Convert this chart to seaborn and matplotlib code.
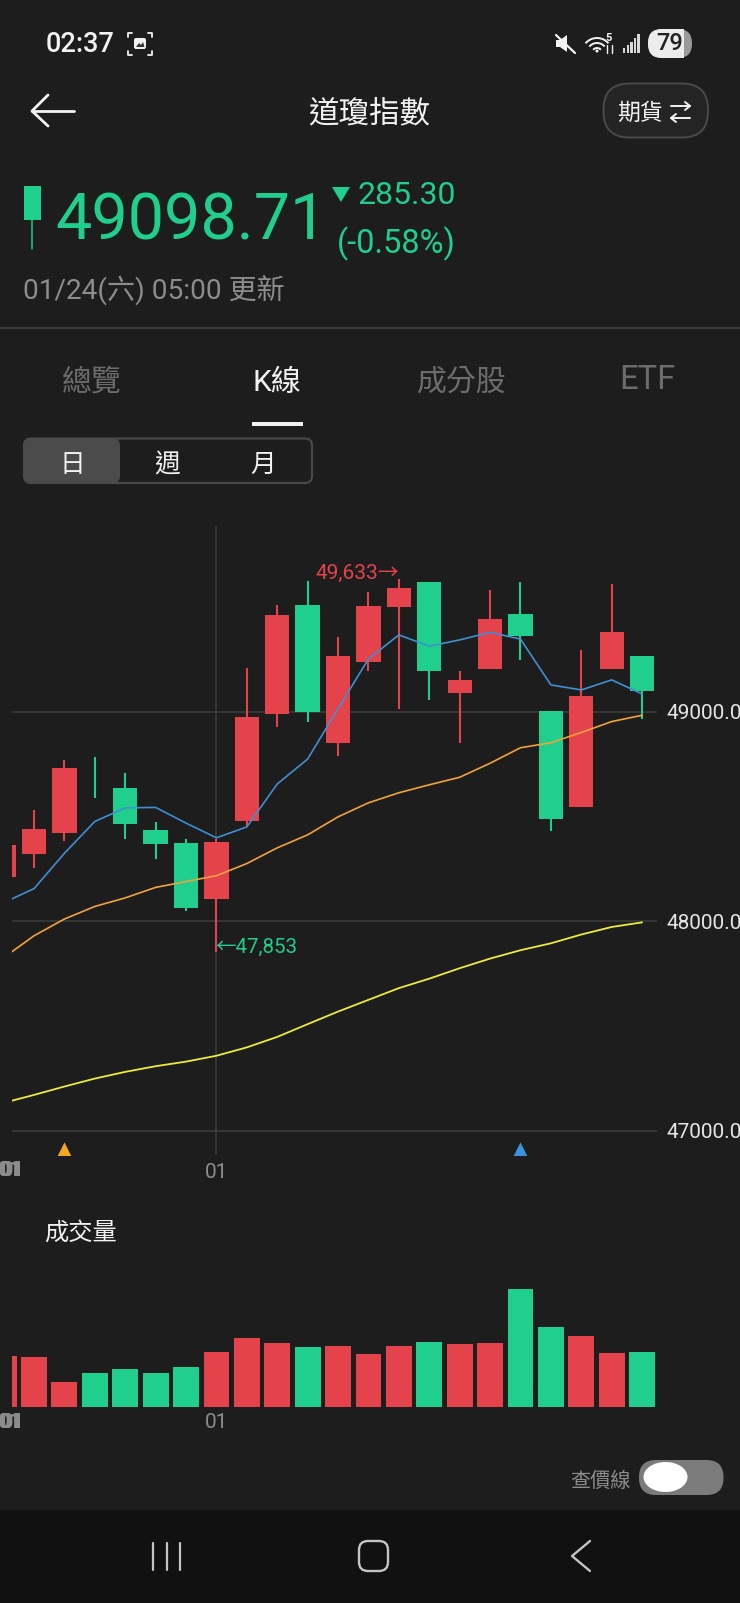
import numpy as np
import pandas as pd
import matplotlib
matplotlib.use("Agg")
import matplotlib.pyplot as plt
from matplotlib.patches import FancyBboxPatch, Rectangle, Ellipse, Arc, Polygon
import seaborn as sns

# ---------- data ----------
positions = list(range(22))
direction = ["up", "up", "up", "down", "down", "down", "down", "up", "up", "up", "down",
             "up", "up", "up", "down", "up", "up", "down", "down", "up", "up", "down"]
high = [48363, 48530, 48771, 48783, 48707, 48473, 48395, 48395, 49209, 49511, 49623,
        49358, 49571, 49633, 49619, 49197, 49583, 49619, 49006, 49295, 49609, 49265]
body_top = [48363, 48441, 48731, 48713, 48636, 48435, 48373, 48381, 48978, 49462, 49513,
            49267, 49505, 49591, 49619, 49153, 49444, 49468, 49006, 49078, 49384, 49265]
body_bottom = [48212, 48321, 48423, 48711, 48463, 48367, 48063, 48106, 48477, 48988, 48998,
               48851, 49237, 49500, 49195, 49090, 49203, 49362, 48489, 48546, 49203, 49100]
low = [48212, 48254, 48385, 48590, 48391, 48296, 48051, 47853, 48453, 48926, 48954,
       48791, 49197, 49012, 49056, 48851, 49203, 49247, 48429, 48546, 49203, 48966]
ma5 = [48089, 48156, 48325, 48477, 48542, 48544, 48469, 48399, 48451, 48656, 48775,
       49016, 49253, 49368, 49314, 49344, 49380, 49348, 49129, 49105, 49153, 49086]
ma20 = [47826, 47931, 48011, 48071, 48112, 48162, 48190, 48218, 48276, 48351, 48413,
        48499, 48566, 48614, 48652, 48688, 48755, 48829, 48853, 48902, 48954, 48984]
ma60 = [47133, 47171, 47211, 47249, 47281, 47308, 47330, 47358, 47398, 47448, 47509,
        47569, 47625, 47681, 47726, 47776, 47822, 47862, 47895, 47937, 47973, 47995]
volume = [152, 149, 74, 103, 114, 101, 120, 165, 206, 193, 180,
          184, 158, 184, 196, 189, 193, 354, 241, 214, 162, 164]
price_ticks = [47000, 48000, 49000]
price_labels = ["47000.00", "48000.00", "49000.00"]
tab_labels = ["總覽", "K線", "成分股", "ETF"]
period_labels = ["日", "週", "月"]

# ---------- style ----------
BG = "#1d1d1d"
NAV = "#111111"
RED = "#E4434C"
GREEN = "#20CE8E"
GRID = "#3d3d3d"
GRAY = "#8c8c8c"
DIM = "#6c6c6c"
WHITE = "#f2f2f2"
COL = {"up": RED, "down": GREEN}

sns.set_theme(style="dark", rc={"axes.facecolor": "none", "figure.facecolor": BG})
FONT = ["Roboto", "Noto Sans CJK TC", "DejaVu Sans"]
plt.rcParams["font.family"] = FONT

W, H = 740, 1603
fig = plt.figure(figsize=(W / 100, H / 100), dpi=100, facecolor=BG)


def axes_px(l, t, r, b, **kw):
    return fig.add_axes([l / W, 1 - b / H, (r - l) / W, (b - t) / H], **kw)


# overlay in pixel coordinates for the app chrome
ui = axes_px(0, 0, W, H)
ui.set_xlim(0, W)
ui.set_ylim(H, 0)
ui.axis("off")


def T(x, y, s, size, color=WHITE, ha="center", weight="normal", va="center"):
    ui.text(x, y, s, fontsize=size, color=color, ha=ha, va=va, fontweight=weight)


def L(xs, ys, color=WHITE, lw=1.6):
    ui.plot(xs, ys, color=color, lw=lw, solid_capstyle="round", solid_joinstyle="round")


def RR(l, t, r, b, rad, fc="none", ec="none", lw=1.5):
    ui.add_patch(FancyBboxPatch((l + rad, t + rad), r - l - 2 * rad, b - t - 2 * rad,
                                boxstyle=f"round,pad={rad}", fc=fc, ec=ec, lw=lw))


# status bar
T(46, 44, "02:37", 19.5, ha="left", weight="medium")
for cx, sx in ((128, 1), (152, -1)):
    for cy, sy in ((33, 1), (55, -1)):
        L([cx + sx * 4, cx, cx], [cy, cy, cy + sy * 4], lw=1.3)
RR(134, 38, 146, 49, 2, fc=WHITE)
ui.add_patch(Polygon([[136, 47], [139, 43], [141, 45], [143, 42], [144.5, 47]], fc="#333333", ec="none"))
ui.add_patch(Polygon([[556, 40], [560, 40], [567, 35], [567, 52], [560, 47], [556, 47]], fc=WHITE, ec="none"))
L([556, 575], [35, 53], lw=1.6)
for r in (5, 10, 15):
    ui.add_patch(Arc((597, 53), 2 * r, 2 * r, theta1=220, theta2=320, ec=WHITE, lw=1.4))
ui.add_patch(Ellipse((597, 51), 3, 3, fc=WHITE, ec="none"))
T(609, 38, "5", 8, weight="bold")
L([607, 607], [45, 53], lw=1)
L([612, 612], [45, 53], lw=1)
for i, bh in enumerate((5, 8, 11, 15, 19)):
    ui.add_patch(Rectangle((623 + i * 3.6, 53 - bh), 2.4, bh, fc="#d8d8d8", ec="none"))
RR(648, 29, 692, 58, 14, fc="#9a9a9a")
RR(648, 29, 684, 58, 14, fc="#ececec")
ui.add_patch(Rectangle((668, 29), 15.5, 29, fc="#ececec", ec="none"))
T(670, 44, "79", 17, color="#222222", weight="medium")

# header
L([74, 32], [111, 111], lw=2)
L([48, 32, 48], [95, 111, 126], lw=2)
T(369, 114, "道瓊指數", 22)
RR(603.5, 83.5, 708, 137.5, 26, fc="#242424", ec="#4a4a4a", lw=1.4)
T(639.5, 113, "期貨", 16.5)
L([671, 690], [106, 106], lw=1.4)
L([685, 690, 685], [102, 106, 110], lw=1.4)
L([671, 690], [118, 118], lw=1.4)
L([676, 671, 676], [114, 118, 122], lw=1.4)

# quote block
ui.add_patch(Rectangle((23.5, 186), 17.5, 34, fc=GREEN, ec="none"))
L([32, 32], [220, 249], color=GREEN, lw=1.1)
T(55, 221, "49098.71", 46.5, color=GREEN, ha="left")
ui.add_patch(Polygon([[332, 187], [350, 187], [341, 202]], fc=GREEN, ec="none"))
T(456, 195, "285.30", 23, color=GREEN, ha="right")
T(456, 244, "(-0.58%)", 23.5, color=GREEN, ha="right")
T(23, 291, "01/24(六) 05:00 更新", 20.2, color=GRAY, ha="left")
ui.add_patch(Rectangle((0, 327), W, 2, fc="#3a3a3a", ec="none"))

# tabs
tab_x = (92, 276.5, 462, 647)
tab_y = (383, 383, 383, 380)
tab_sz = (21.5, 21.5, 21.5, 23.5)
for x, y, s, c, z in zip(tab_x, tab_y, tab_labels, (DIM, WHITE, DIM, DIM), tab_sz):
    T(x, y, s, z, color=c)
ui.add_patch(Rectangle((252, 422), 51, 4, fc=WHITE, ec="none"))
RR(24, 438.5, 312, 483, 7, ec="#484848", lw=1.6)
RR(24, 438.5, 120, 483, 7, fc="#4b4b4b")
for x, s in zip((72, 167.5, 263), period_labels):
    T(x, 465, s, 18.5)

# bottom chrome
T(44, 1233, "成交量", 17.5, ha="left")
T(600, 1481, "查價線", 14.5, color=GRAY)
RR(639, 1460, 723.5, 1495, 17, fc="#7b7b7b")
ui.add_patch(Ellipse((665.5, 1477), 44, 30, fc="white", ec="none"))
ui.add_patch(Rectangle((0, 1510), W, 93, fc=NAV, ec="none"))
for x in (153, 167, 180):
    L([x, x], [1543, 1570], color="#c4c4c4", lw=1.6)
RR(359, 1541, 388, 1571, 9, ec="#c4c4c4", lw=1.7)
L([590, 572, 590], [1541, 1556, 1571], color="#c4c4c4", lw=1.7)

# crowded date labels at the left edge of both panels
for y in (1171, 1423):
    for x in (10, 11, 12, 13, 14):
        T(x, y, "01", 15, color=GRAY)

# ---------- price panel ----------
XMIN, XMAX = 0.276, 21.48
ax = axes_px(12, 526, 656.7, 1155)
ax.patch.set_alpha(0)
x = np.array(positions)
colors = [COL[d] for d in direction]
top = np.array(body_top)
bottom = np.array(body_bottom)
ax.vlines(x, low, high, colors=colors, linewidth=1.5, zorder=2)
ax.bar(x, np.maximum(top - bottom, 4), bottom=bottom, width=0.8, color=colors, linewidth=0, zorder=3)
for series, c, lw in ((ma60, "#EFEA3B", 1.3), (ma20, "#F2A23A", 1.2), (ma5, "#3F8FD2", 1.2)):
    sns.lineplot(x=x, y=series, color=c, linewidth=lw, ax=ax, zorder=4, errorbar=None)
ax.scatter([2], [46913], marker="^", s=105, color="#F5A623", linewidth=0, zorder=5)
ax.scatter([17], [46913], marker="^", s=105, color="#3A93DC", linewidth=0, zorder=5)
ax.text(6.97, 47875, "←47,853", color=GREEN, fontsize=14.8, ha="left", va="center", zorder=6)
ax.text(13, 49663, "49,633→", color=RED, fontsize=15, ha="right", va="center", zorder=6)

ax.set_xlim(XMIN, XMAX)
ax.set_ylim(46884, 49888)
ax.set_xticks([7], ["01"])
ax.set_yticks(price_ticks, price_labels)
ax.yaxis.tick_right()
ax.tick_params(axis="y", length=0, pad=7.2, labelsize=15, labelcolor="#e6e6e6")
ax.tick_params(axis="x", length=0, pad=6, labelsize=15, labelcolor=GRAY)
ax.grid(True, color=GRID, linewidth=1.1, zorder=1)
ax.set_axisbelow(True)
ax.set_xlabel("")
ax.set_ylabel("")
sns.despine(ax=ax, left=True, bottom=True, right=True, top=True)

# ---------- volume panel ----------
vx = axes_px(12, 1240, 656.7, 1407)
vx.patch.set_alpha(0)
df = pd.DataFrame({"pos": positions, "vol": volume, "dir": direction})
sns.barplot(data=df, x="pos", y="vol", hue="dir", palette=COL, dodge=False, width=0.85,
            saturation=1, linewidth=0, legend=False, ax=vx)
vx.set_xlim(XMIN, XMAX)
vx.set_ylim(0, 501)
vx.set_xticks([7], ["01"])
vx.set_yticks([])
vx.tick_params(axis="x", length=0, pad=4, labelsize=15, labelcolor=GRAY)
vx.grid(False)
vx.set_xlabel("")
vx.set_ylabel("")
sns.despine(ax=vx, left=True, bottom=True, right=True, top=True)

fig.savefig("out.png", dpi=100, facecolor=BG)
